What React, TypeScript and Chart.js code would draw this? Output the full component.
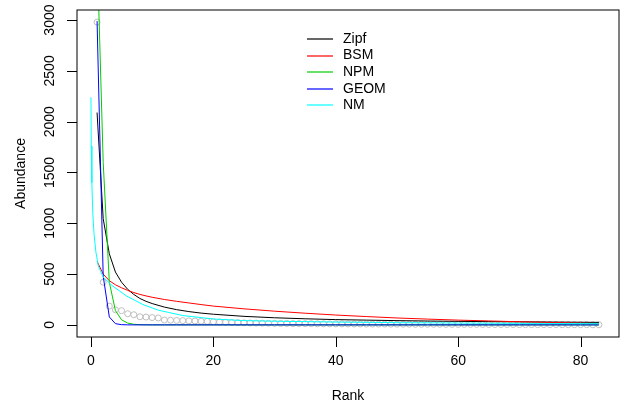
import { useEffect, useRef } from "react";
import { Chart, registerables } from "chart.js";

Chart.register(...registerables);

// ---- data ----
const ranks = [
  1, 2, 3, 4, 5, 6, 7, 8, 9, 10,
  11, 12, 13, 14, 15, 16, 17, 18, 19, 20,
  21, 22, 23, 24, 25, 26, 27, 28, 29, 30,
  31, 32, 33, 34, 35, 36, 37, 38, 39, 40,
  41, 42, 43, 44, 45, 46, 47, 48, 49, 50,
  51, 52, 53, 54, 55, 56, 57, 58, 59, 60,
  61, 62, 63, 64, 65, 66, 67, 68, 69, 70,
  71, 72, 73, 74, 75, 76, 77, 78, 79, 80,
  81, 82, 83,
];
const abundance = [
  2980, 420, 185, 148, 140, 110, 100, 80, 77, 72,
  68, 48, 46, 44, 42, 40, 38, 36, 34, 31,
  28, 26, 24, 22, 20, 19, 18, 17, 16, 15,
  14, 14, 13, 13, 12, 12, 11, 11, 10, 10,
  10, 9, 9, 9, 8, 8, 8, 8, 7, 7,
  7, 7, 6, 6, 6, 6, 6, 5, 5, 5,
  5, 5, 5, 4, 4, 4, 4, 4, 4, 3,
  3, 3, 3, 3, 3, 3, 2, 2, 2, 2,
  2, 1, 1,
];

const modelRanks = [1, 2, 3, 4, 5, 6, 7, 8, 9, 10, 12, 14, 16, 18, 20, 25, 30, 35, 40, 45, 50, 55, 60, 65, 70, 75, 80, 83];
const zipf = [2090, 1045, 700, 520, 420, 350, 300, 260, 232, 210, 175, 150, 131, 116, 105, 84, 70, 60, 52, 47, 42, 38, 35, 32, 30, 28, 26, 25];
const bsm = [625, 500, 435, 395, 365, 340, 318, 300, 285, 272, 250, 232, 216, 200, 185, 158, 135, 115, 97, 82, 68, 57, 47, 39, 31, 24, 17, 13];
const npm = [3700, 1600, 420, 140, 50, 18, 6, 2, 1, 0, 0, 0, 0, 0, 0, 0, 0, 0, 0, 0, 0, 0, 0, 0, 0, 0, 0, 0];
const geom = [2990, 480, 78, 12, 2, 0.3, 0, 0, 0, 0, 0, 0, 0, 0, 0, 0, 0, 0, 0, 0, 0, 0, 0, 0, 0, 0, 0, 0];

const nmRanks = [0, 0.05, 0.15, 0.3, 0.5, 0.8, 1.2, 2, 3.5, 5.8, 8.5, 11, 15, 20, 25, 30, 40, 50, 60, 70, 83];
const nm = [2240, 1760, 1400, 1100, 900, 720, 580, 470, 385, 285, 200, 145, 92, 58, 42, 36, 28, 22, 18, 15, 12];

const seriesNames = ["Zipf", "BSM", "NPM", "GEOM", "NM"];
const seriesColors = ["#000000", "#FF0000", "#00CD00", "#0000FF", "#00FFFF"];

const xTicks = [0, 20, 40, 60, 80];
const yTicks = [0, 500, 1000, 1500, 2000, 2500, 3000];
const xTitle = "Rank";
const yTitle = "Abundance";

const FONT = "14px 'Liberation Sans', Arial, sans-serif";

const rAxesPlugin = {
  id: "rAxes",
  afterDraw(chart: any) {
    const { ctx, chartArea: a, scales } = chart;
    const xs = scales.x;
    const ys = scales.y;
    ctx.save();
    ctx.strokeStyle = "#000";
    ctx.lineWidth = 1;
    // box
    ctx.strokeRect(a.left, a.top, a.right - a.left, a.bottom - a.top);
    ctx.fillStyle = "#000";
    ctx.font = FONT;
    // ticks
    ctx.beginPath();
    for (const t of xTicks) {
      const px = Math.round(xs.getPixelForValue(t)) + 0.5;
      ctx.moveTo(px, a.bottom);
      ctx.lineTo(px, a.bottom + 10);
    }
    for (const t of yTicks) {
      const py = Math.round(ys.getPixelForValue(t)) + 0.5;
      ctx.moveTo(a.left, py);
      ctx.lineTo(a.left - 10, py);
    }
    ctx.stroke();
    ctx.textAlign = "center";
    ctx.textBaseline = "middle";
    for (const t of xTicks) {
      ctx.fillText(String(t), xs.getPixelForValue(t), 361);
    }
    for (const t of yTicks) {
      ctx.save();
      ctx.translate(50, ys.getPixelForValue(t));
      ctx.rotate(-Math.PI / 2);
      ctx.fillText(String(t), 0, 0);
      ctx.restore();
    }
    ctx.fillText(xTitle, (a.left + a.right) / 2, 396);
    ctx.save();
    ctx.translate(21, (a.top + a.bottom) / 2);
    ctx.rotate(-Math.PI / 2);
    ctx.fillText(yTitle, 0, 0);
    ctx.restore();
    // legend
    ctx.textAlign = "left";
    for (let i = 0; i < seriesNames.length; i++) {
      const ly = 39 + i * 16.6;
      ctx.strokeStyle = seriesColors[i];
      ctx.lineWidth = 1.2;
      ctx.beginPath();
      ctx.moveTo(307, Math.round(ly));
      ctx.lineTo(333, Math.round(ly));
      ctx.stroke();
      ctx.fillStyle = "#000";
      ctx.fillText(seriesNames[i], 343, ly);
    }
    ctx.restore();
  },
};

export default function App() {
  const ref = useRef<HTMLCanvasElement | null>(null);
  useEffect(() => {
    if (!ref.current) return;
    const pts = (xsArr: number[], ysArr: number[]) => xsArr.map((x, i) => ({ x, y: ysArr[i] }));
    const modelData = [zipf, bsm, npm, geom];
    const lineSets: any[] = modelData.map((vals, i) => ({
      type: "line",
      label: seriesNames[i],
      data: pts(modelRanks, vals),
      borderColor: seriesColors[i],
      borderWidth: 1,
      pointRadius: 0,
      tension: 0,
      fill: false,
      order: 5 - i,
    }));
    lineSets.push({
      type: "line",
      label: seriesNames[4],
      data: pts(nmRanks, nm),
      borderColor: seriesColors[4],
      borderWidth: 1,
      pointRadius: 0,
      tension: 0,
      fill: false,
      order: 1,
    });
    const chart = new Chart(ref.current, {
      type: "scatter",
      data: {
        datasets: [
          {
            type: "scatter",
            label: "Observed",
            data: pts(ranks, abundance),
            pointStyle: "circle",
            pointRadius: 3,
            pointBorderWidth: 1,
            pointBorderColor: "#BEBEBE",
            pointBackgroundColor: "rgba(0,0,0,0)",
            borderColor: "#BEBEBE",
            backgroundColor: "rgba(0,0,0,0)",
            order: 10,
          } as any,
          ...lineSets,
        ],
      },
      options: {
        animation: false,
        responsive: false,
        maintainAspectRatio: false,
        layout: { padding: { left: 77, top: 10, right: 1.5, bottom: 67 } },
        plugins: { legend: { display: false }, tooltip: { enabled: false } },
        scales: {
          x: { type: "linear", min: -2.28, max: 86.28, display: false },
          y: { type: "linear", min: -119.2, max: 3099.2, display: false },
        },
      },
      plugins: [rAxesPlugin],
    });
    return () => chart.destroy();
  }, []);
  return (
    <div style={{ position: "fixed", left: 0, top: 0, width: 624, height: 404, background: "#fff" }}>
      <canvas ref={ref} width={624} height={404} style={{ width: 624, height: 404, display: "block" }} />
    </div>
  );
}
